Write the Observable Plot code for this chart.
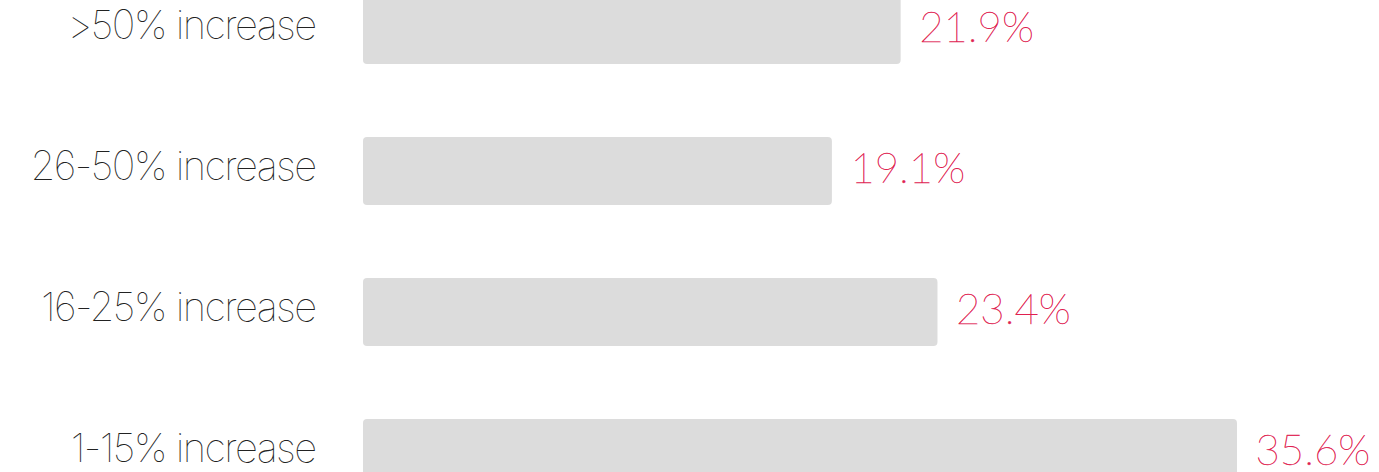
<!DOCTYPE html>
<html>
<head>
<meta charset="utf-8">
<script src="https://cdn.jsdelivr.net/npm/d3@7"></script>
<script src="https://cdn.jsdelivr.net/npm/@observablehq/plot@0.6"></script>
<style>
  html, body { margin: 0; padding: 0; background: #fff; overflow: hidden; }
  #chart svg { display: block; overflow: hidden; }
  #chart .cat-label text { letter-spacing: -1.6px; }
</style>
</head>
<body>
<div id="chart"></div>
<script>
const categories = [">50% increase", "26-50% increase", "16-25% increase", "1-15% increase"];
const shares = [21.9, 19.1, 23.4, 35.6];

const rows = categories.map((c, i) => ({category: c, share: shares[i]}));

const chart = Plot.plot({
  width: 1379,
  height: 472,
  marginLeft: 363,
  marginRight: 34,
  marginTop: 0,
  marginBottom: 0,
  style: {background: "#fff"},
  x: {domain: [0, 40], axis: null},
  y: {domain: categories, range: [-6, 488], paddingInner: 0.521, paddingOuter: 0, axis: null},
  marks: [
    Plot.barX(rows, {x: "share", y: "category", fill: "#dcdcdc", rx: 4}),
    Plot.text(rows, {
      x: 0, y: "category", text: "category",
      textAnchor: "end", dx: -48, dy: -4,
      fontSize: 40, fontWeight: 100, fontFamily: "Inter, Roboto, sans-serif",
      fill: "#222", className: "cat-label"
    }),
    Plot.text(rows, {
      x: "share", y: "category", text: d => d.share.toFixed(1) + "%",
      textAnchor: "start", dx: 18, dy: -2,
      fontSize: 42, fontWeight: 100, fontFamily: "Lato, Roboto, sans-serif",
      fill: "#e0204f", stroke: "#e0204f", strokeWidth: 0.4
    })
  ]
});
document.getElementById("chart").appendChild(chart);
</script>
</body>
</html>
